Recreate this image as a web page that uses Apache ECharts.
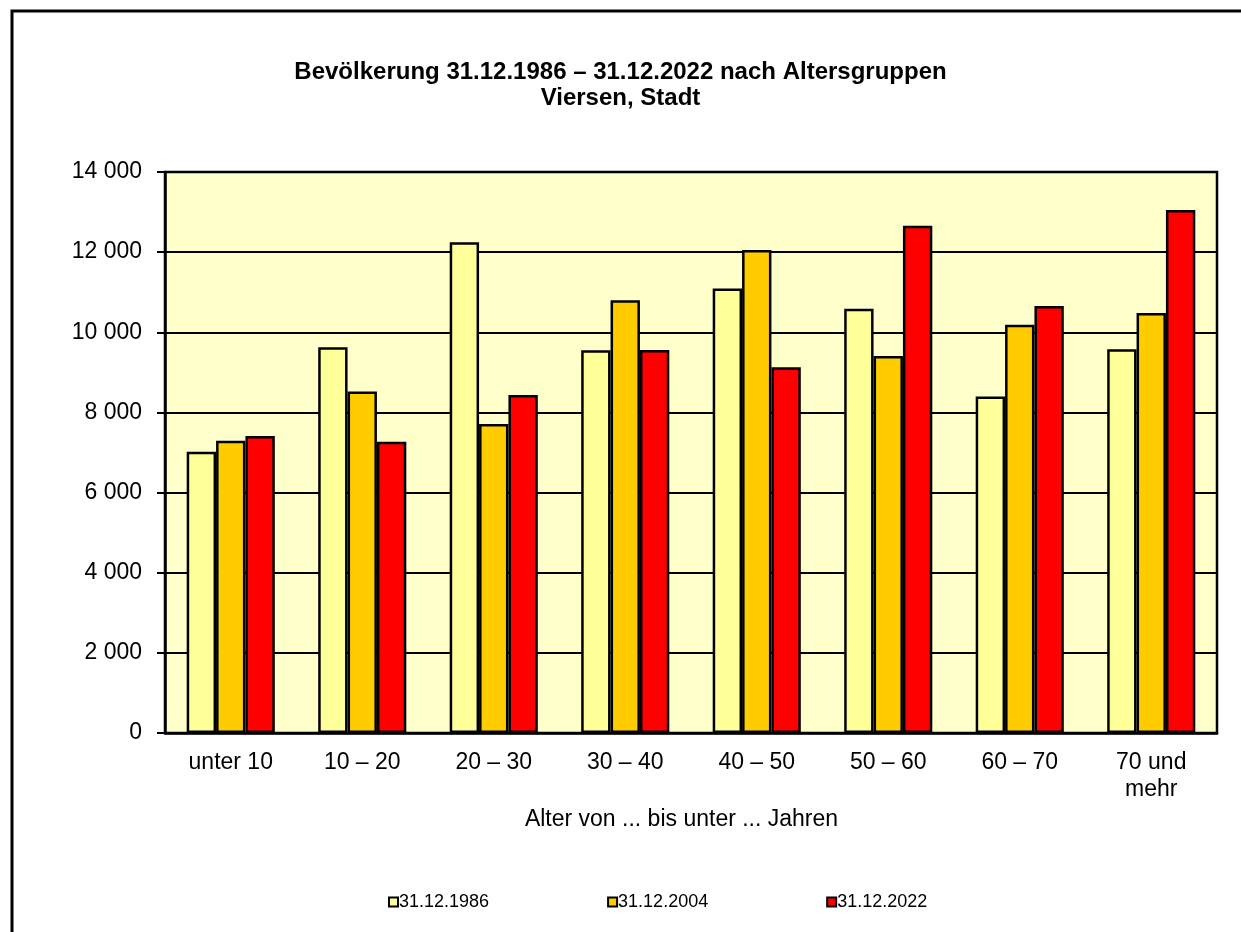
<!DOCTYPE html>
<html>
<head>
<meta charset="utf-8">
<title>Bevölkerung nach Altersgruppen</title>
<script src="https://cdn.jsdelivr.net/npm/echarts@6/dist/echarts.min.js"></script>
<style>
  html, body { margin: 0; padding: 0; background: #fff; }
  #main { width: 1241px; height: 932px; }
</style>
</head>
<body>
<div id="main"></div>
<script>
// Werte
var categories = ["unter 10", "10 – 20", "20 – 30", "30 – 40", "40 – 50", "50 – 60", "60 – 70", "70 und\nmehr"];
var seriesNames = ["31.12.1986", "31.12.2004", "31.12.2022"];
var values1986 = [7020, 9625, 12245, 9550, 11095, 10590, 8395, 9575];
var values2004 = [7295, 8520, 7710, 10800, 12055, 9410, 10190, 10480];
var values2022 = [7410, 7270, 8435, 9560, 9125, 12660, 10655, 13050];
var yTicks = [0, 2000, 4000, 6000, 8000, 10000, 12000, 14000];

var font = "'Liberation Sans', Arial, sans-serif";
var colors = ["#FFFF99", "#FFCC00", "#FF0000"];

function fmt(v) {
  return String(v).replace(/\B(?=(\d{3})+(?!\d))/g, " ");
}

function bar(name, data, color) {
  return {
    name: name,
    type: "bar",
    data: data,
    barGap: "0%",
    barCategoryGap: "33%",
    itemStyle: { color: color, borderColor: "#000", borderWidth: 2.5 },
    emphasis: { disabled: true },
  };
}

var myChart = echarts.init(document.getElementById("main"));
myChart.setOption({
  animation: false,
  textStyle: { fontFamily: font, color: "#000" },
  title: {
    text: "Bevölkerung 31.12.1986 – 31.12.2022 nach Altersgruppen\nViersen, Stadt",
    left: "center",
    top: 54,
    textStyle: { fontFamily: font, fontSize: 24, fontWeight: "bold", lineHeight: 26, color: "#000" },
  },
  graphic: [
    {
      type: "rect",
      shape: { x: 12, y: 11, width: 1400, height: 1100 },
      style: { fill: "none", stroke: "#000", lineWidth: 3 },
      silent: true,
    },
  ],
  legend: {
    data: seriesNames,
    left: 383,
    top: 888,
    itemWidth: 9,
    itemHeight: 9,
    itemGap: 118,
    icon: "rect",
    itemStyle: { borderColor: "#000", borderWidth: 2 },
    textStyle: { fontFamily: font, fontSize: 18, color: "#000", padding: [0, 0, 0, -4] },
  },
  grid: {
    left: 165,
    top: 172,
    right: 24,
    bottom: 199,
    show: true,
    backgroundColor: "#FFFFCC",
    borderColor: "#000",
    borderWidth: 2.5,
  },
  xAxis: {
    type: "category",
    data: categories,
    name: "Alter von ... bis unter ... Jahren",
    nameLocation: "middle",
    nameGap: 71,
    nameTextStyle: { fontFamily: font, fontSize: 23, color: "#000", padding: [0, 19, 0, 0] },
    axisLine: { lineStyle: { color: "#000", width: 2.5 } },
    axisTick: { show: false },
    axisLabel: { fontFamily: font, fontSize: 23, color: "#000", margin: 16, lineHeight: 27 },
  },
  yAxis: {
    type: "value",
    min: yTicks[0],
    max: yTicks[yTicks.length - 1],
    interval: 2000,
    axisLine: { show: true, lineStyle: { color: "#000", width: 2.5 } },
    axisTick: { show: true, length: 8, lineStyle: { color: "#000", width: 2 } },
    splitLine: { lineStyle: { color: "#000", width: 2 } },
    axisLabel: { fontFamily: font, fontSize: 23, color: "#000", margin: 23, formatter: fmt },
  },
  series: [
    bar(seriesNames[0], values1986, colors[0]),
    bar(seriesNames[1], values2004, colors[1]),
    bar(seriesNames[2], values2022, colors[2]),
  ],
});
</script>
</body>
</html>
